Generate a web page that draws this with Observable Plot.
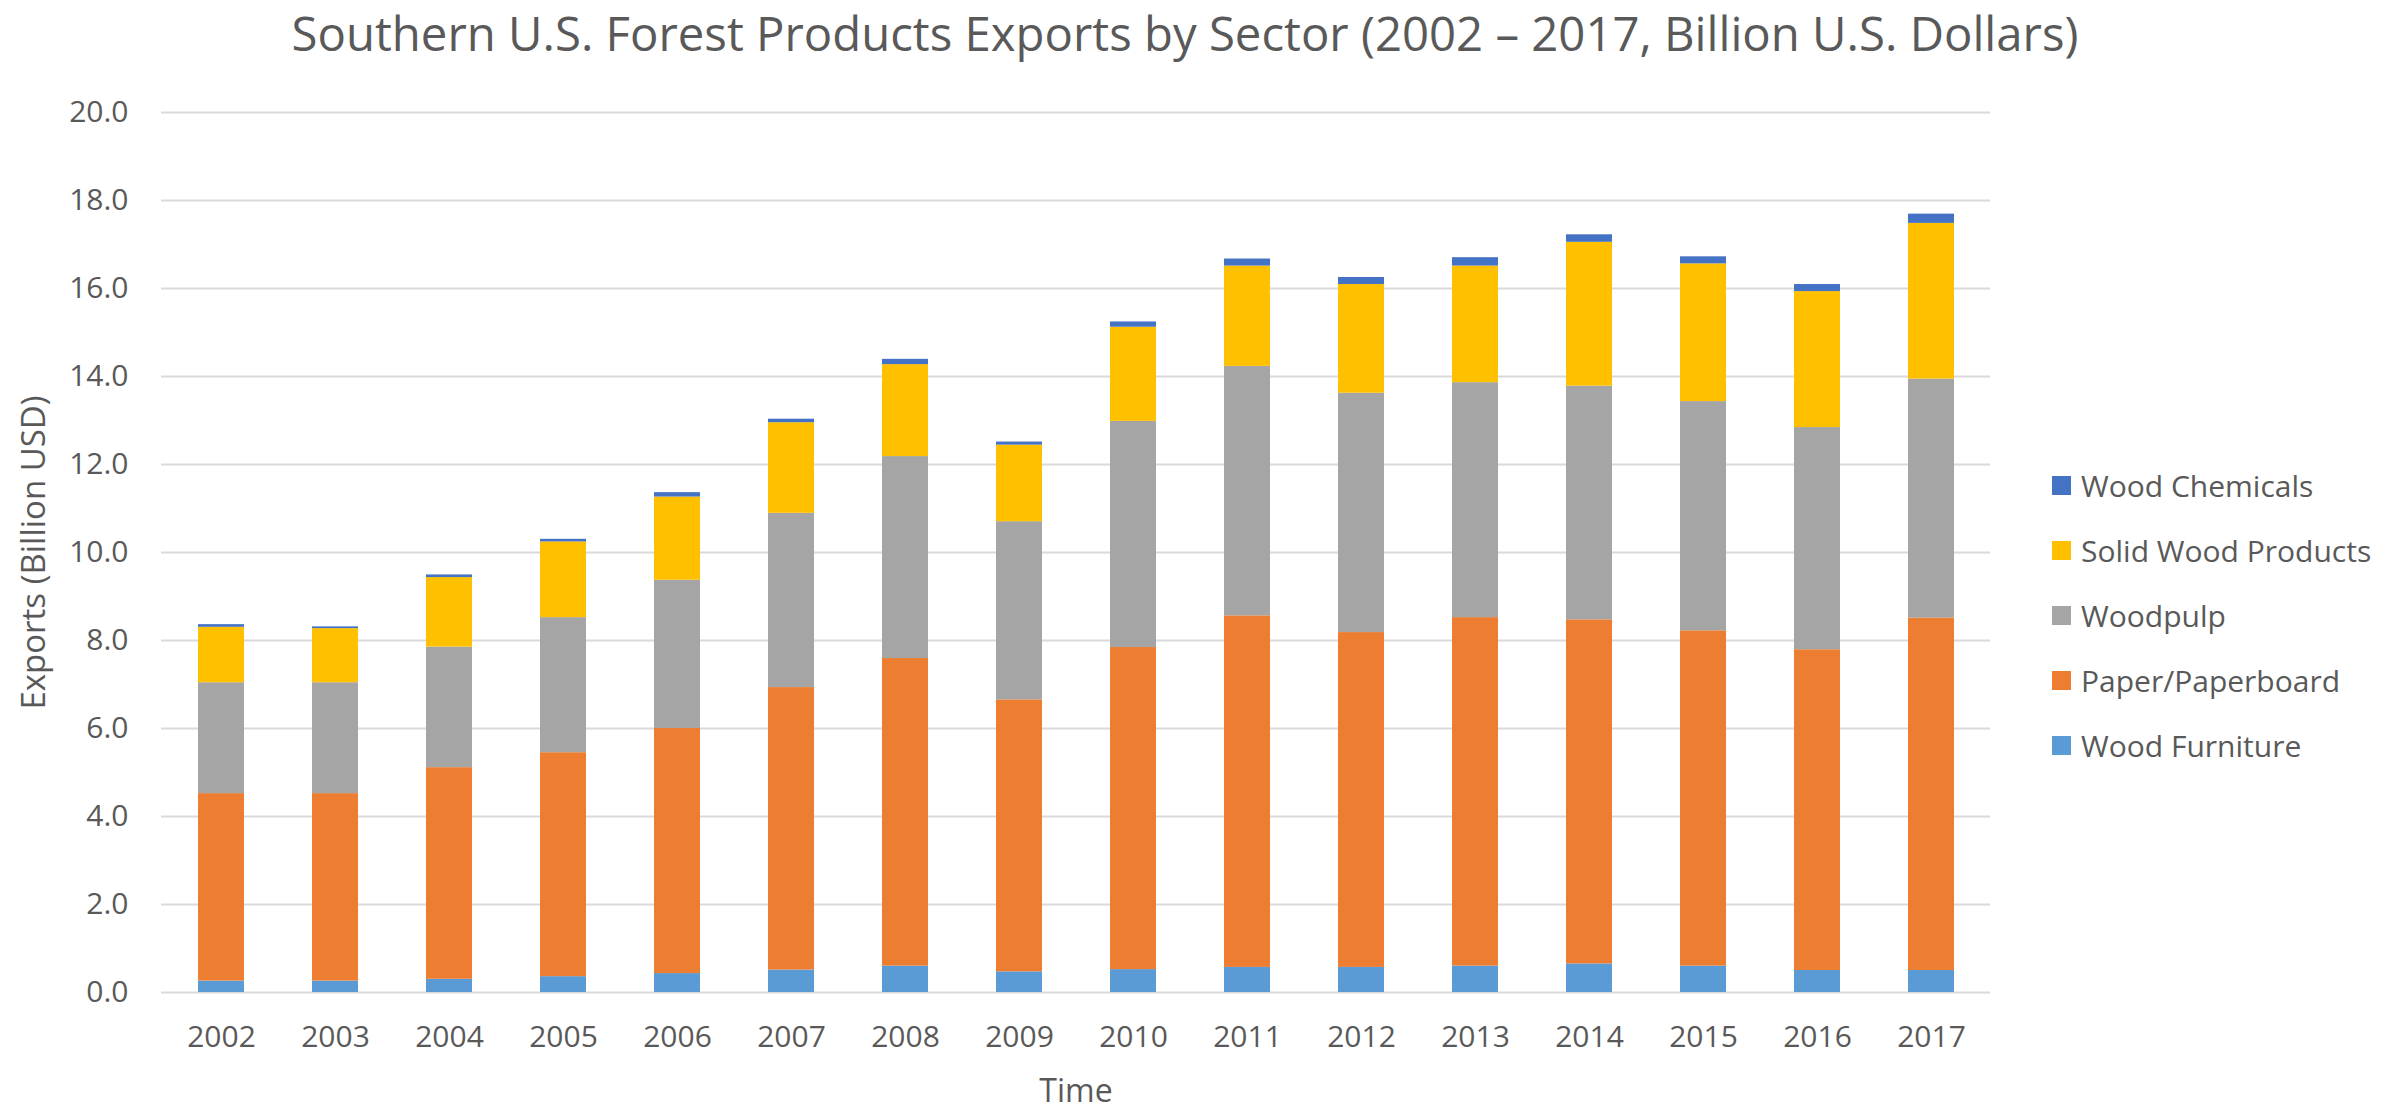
<!DOCTYPE html>
<html>
<head>
<meta charset="utf-8">
<script src="https://cdn.jsdelivr.net/npm/d3@7"></script>
<script src="https://cdn.jsdelivr.net/npm/@observablehq/plot@0.6"></script>
<style>
  body { margin: 0; background: #fff; font-family: "Open Sans", sans-serif; }
  #wrap { position: relative; width: 2396px; height: 1111px; overflow: hidden; background: #fff; }
  #title { position: absolute; left: 0; top: 3px; width: 2370px; height: 60px; line-height: 60px;
           text-align: center; font-size: 47.3px; color: #595959; white-space: nowrap; }
  #chart { position: absolute; left: 0; top: 60px; }
  #legend { position: absolute; left: 2052px; top: 453px; }
  .lg-swatches { font-family: "Open Sans", sans-serif !important; font-size: 30px !important; color: #595959; margin: 0 !important; width: 340px; }
  .lg-swatch { height: 65px; padding: 0 !important; }
  .lg-swatch > svg { margin-right: 10px !important; }
</style>
</head>
<body>
<div id="wrap">
  <div id="title">Southern U.S. Forest Products Exports by Sector (2002 – 2017, Billion U.S. Dollars)</div>
  <div id="chart"></div>
  <div id="legend"></div>
</div>
<script>
// ---- Data (billion USD) ----
const years = ["2002","2003","2004","2005","2006","2007","2008","2009","2010","2011","2012","2013","2014","2015","2016","2017"];
const sectors = ["Wood Furniture","Paper/Paperboard","Woodpulp","Solid Wood Products","Wood Chemicals"];
const sectorColors = ["#5B9BD5","#ED7D31","#A5A5A5","#FFC000","#4472C4"];

const woodFurniture     = [0.26,0.26,0.30,0.36,0.43,0.51,0.60,0.47,0.52,0.57,0.57,0.60,0.65,0.60,0.50,0.50];
const paperPaperboard   = [4.26,4.26,4.81,5.09,5.57,6.42,6.99,6.18,7.32,7.99,7.61,7.92,7.82,7.62,7.29,8.01];
const woodpulp          = [2.52,2.52,2.74,3.07,3.37,3.96,4.59,4.05,5.14,5.67,5.44,5.34,5.31,5.21,5.05,5.43];
const solidWoodProducts = [1.26,1.23,1.58,1.72,1.89,2.06,2.09,1.74,2.14,2.28,2.47,2.65,3.27,3.13,3.09,3.54];
const woodChemicals     = [0.06,0.04,0.06,0.06,0.10,0.08,0.12,0.07,0.12,0.16,0.16,0.19,0.17,0.16,0.16,0.21];

const yTicks = [0,2,4,6,8,10,12,14,16,18,20];

// ---- Long table for the library ----
const seriesValues = [woodFurniture, paperPaperboard, woodpulp, solidWoodProducts, woodChemicals];
const rows = [];
seriesValues.forEach((vals, i) => {
  years.forEach((yr, j) => rows.push({year: yr, sector: sectors[i], value: vals[j]}));
});

const chart = Plot.plot({
  width: 2040,
  height: 1051,
  marginTop: 52,
  marginBottom: 119,
  marginLeft: 161,
  marginRight: 50,
  style: {fontFamily: "Open Sans", color: "#595959", background: "transparent", overflow: "visible"},
  x: {domain: years, paddingInner: 0.6, paddingOuter: 0.3, label: null},
  y: {domain: [0, 20], label: null},
  color: {domain: sectors, range: sectorColors},
  marks: [
    Plot.gridY(yTicks, {stroke: "#d9d9d9", strokeOpacity: 1, strokeWidth: 2}),
    Plot.barY(rows, {x: "year", y: "value", fill: "sector", order: sectors}),
    Plot.axisY(yTicks, {tickSize: 0, tickPadding: 33, tickFormat: d3.format(".1f"), fontSize: 30, label: null}),
    Plot.axisX({tickSize: 0, tickPadding: 33, fontSize: 30, label: null}),
    Plot.text(["Time"], {frameAnchor: "bottom", dy: 99, lineAnchor: "middle", textAnchor: "middle", fontSize: 32}),
    Plot.text(["Exports (Billion USD)"], {frameAnchor: "left", rotate: -90, dx: -127, lineAnchor: "middle", textAnchor: "middle", fontSize: 33})
  ]
});
document.getElementById("chart").appendChild(chart);

const legend = Plot.legend({
  color: {domain: sectors.slice().reverse(), range: sectorColors.slice().reverse()},
  legend: "swatches",
  columns: 1,
  swatchSize: 19,
  className: "lg"
});
document.getElementById("legend").appendChild(legend);
</script>
</body>
</html>
